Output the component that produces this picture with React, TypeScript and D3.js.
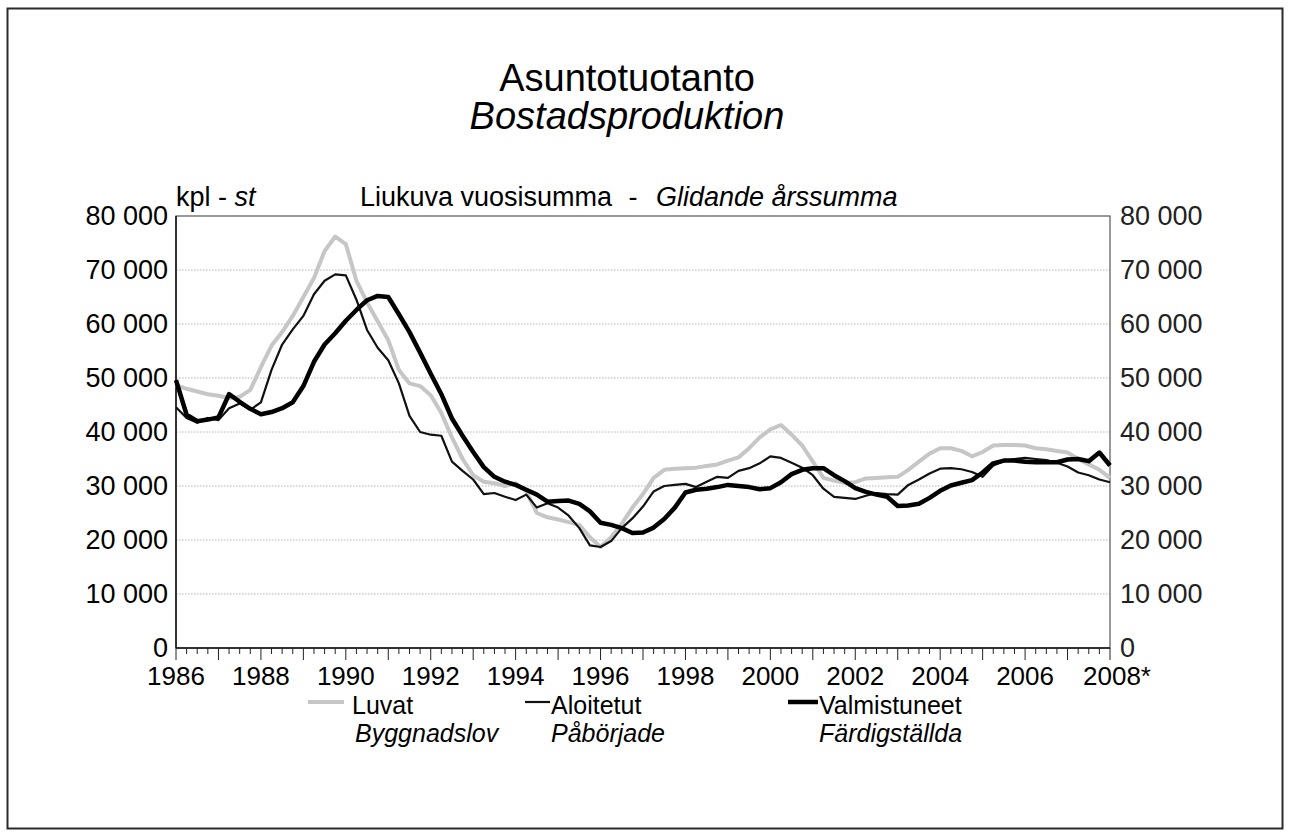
import React, { useRef, useEffect } from 'react'
import * as d3 from 'd3'

// x axis labels, one every two years (quarterly data 1986Q1 .. 2008Q1)
const yearLabels = ['1986', '1988', '1990', '1992', '1994', '1996', '1998', '2000', '2002', '2004', '2006', '2008*']
const yTicks = [0, 10000, 20000, 30000, 40000, 50000, 60000, 70000, 80000]

// Luvat - Byggnadslov
const luvat = [
  48700, 48000, 47500, 47000, 46700, 46300, 46500, 47800, 52000, 56000,
  58500, 61500, 65000, 68500, 73500, 76200, 74800, 68000, 64000, 60500,
  57000, 51500, 49000, 48500, 46800, 43500, 39000, 35000, 32000, 30800,
  30500, 30000, 30500, 29000, 25000, 24200, 23800, 23300, 22800, 20500,
  18700, 20500, 23000, 26000, 28500, 31500, 33000, 33200, 33300, 33400,
  33700, 34000, 34700, 35300, 37000, 39000, 40500, 41300, 39500, 37500,
  34500, 31500, 31000, 30600, 30700, 31400, 31500, 31600, 31700, 33000,
  34500, 36000, 37000, 37000, 36500, 35500, 36300, 37500, 37600, 37600,
  37500, 37000, 36800, 36500, 36200, 35000, 34000, 33000, 31500
]

// Aloitetut - Påbörjade
const aloitetut = [
  44600, 42600, 41700, 42600, 42200, 44400, 45300, 44100, 45500, 51500,
  56200, 59000, 61500, 65500, 68000, 69200, 69000, 64500, 58900, 55600,
  53300, 49000, 43000, 40000, 39500, 39300, 34500, 32800, 31200, 28500,
  28700, 28000, 27400, 28400, 26000, 26800, 26000, 24500, 22200, 19000,
  18700, 19800, 22200, 24000, 26200, 29000, 30000, 30200, 30400, 29800,
  30800, 31700, 31500, 32800, 33300, 34200, 35500, 35200, 34300, 33400,
  32000, 29500, 28000, 27800, 27600, 28200, 28700, 28500, 28400, 30200,
  31200, 32300, 33200, 33300, 33100, 32600, 31700, 33800, 34600, 35000,
  35200, 35000, 34800, 34300, 33600, 32500, 32000, 31200, 30700
]

// Valmistuneet - Färdigställda
const valmistuneet = [
  49600, 43200, 42000, 42300, 42700, 47000, 45600, 44300, 43300, 43700,
  44400, 45500, 48500, 53000, 56200, 58300, 60600, 62600, 64400, 65200,
  65000, 61800, 58500, 54700, 50800, 47000, 42500, 39300, 36300, 33500,
  31700, 30800, 30200, 29300, 28400, 27100, 27200, 27300, 26700, 25300,
  23200, 22800, 22200, 21300, 21400, 22300, 23900, 26000, 28800, 29300,
  29500, 29800, 30200, 30000, 29800, 29400, 29600, 30700, 32200, 33000,
  33300, 33300, 32000, 30900, 29600, 28900, 28400, 28000, 26300, 26400,
  26700, 27800, 29100, 30100, 30600, 31100, 32500, 34200, 34700, 34700,
  34500, 34400, 34400, 34400, 34900, 35000, 34600, 36200, 33800
]

const FONT = '"Liberation Sans", Arial, sans-serif'

const App = () => {
  const width = 1289
  const height = 836
  const margin = { top: 216, right: 179, bottom: 188, left: 176 }
  const svgRef = useRef<SVGSVGElement>(null)

  useEffect(() => {
    const svg = d3.select(svgRef.current)
    svg.selectAll('*').remove()

    const n = luvat.length
    const x = d3
      .scaleLinear()
      .domain([0, n - 1])
      .range([margin.left, width - margin.right])
    const y = d3
      .scaleLinear()
      .domain([0, 80000])
      .range([height - margin.bottom, margin.top])

    const fmt = (v: number) => d3.format(',')(v).replace(/,/g, ' ')

    // outer frame
    svg
      .append('rect')
      .attr('x', 7.5)
      .attr('y', 8.5)
      .attr('width', 1275)
      .attr('height', 820)
      .attr('fill', 'none')
      .attr('stroke', '#2b2b2b')
      .attr('stroke-width', 2)

    // titles
    svg
      .append('text')
      .attr('x', 627)
      .attr('y', 91)
      .attr('text-anchor', 'middle')
      .attr('font-size', 38)
      .text('Asuntotuotanto')
    svg
      .append('text')
      .attr('x', 627)
      .attr('y', 129)
      .attr('text-anchor', 'middle')
      .attr('font-size', 38)
      .attr('font-style', 'italic')
      .text('Bostadsproduktion')

    svg
      .append('text')
      .attr('x', 612)
      .attr('y', 206)
      .attr('font-size', 27)
      .attr('text-anchor', 'end')
      .text('Liukuva vuosisumma')
    svg.append('text').attr('x', 633).attr('y', 206).attr('font-size', 27).attr('text-anchor', 'middle').text('-')
    svg
      .append('text')
      .attr('x', 656)
      .attr('y', 206)
      .attr('font-size', 27)
      .attr('font-style', 'italic')
      .text('Glidande årssumma')

    const unit = svg.append('text').attr('x', 176).attr('y', 206).attr('font-size', 27)
    unit.append('tspan').text('kpl - ')
    unit.append('tspan').attr('font-style', 'italic').text('st')

    // gridlines
    svg
      .append('g')
      .selectAll('line')
      .data(yTicks.slice(1, -1))
      .join('line')
      .attr('x1', margin.left)
      .attr('x2', width - margin.right)
      .attr('y1', d => y(d))
      .attr('y2', d => y(d))
      .attr('stroke', '#b4b4b4')
      .attr('stroke-width', 1)
      .attr('stroke-dasharray', '1.5,1.5')

    // plot border
    svg
      .append('rect')
      .attr('x', margin.left)
      .attr('y', margin.top)
      .attr('width', width - margin.left - margin.right)
      .attr('height', height - margin.top - margin.bottom)
      .attr('fill', 'none')
      .attr('stroke', '#555')
      .attr('stroke-width', 1.2)

    // left / right value labels
    svg
      .append('g')
      .selectAll('text')
      .data(yTicks)
      .join('text')
      .attr('x', 168)
      .attr('y', d => y(d) + 9)
      .attr('text-anchor', 'end')
      .attr('font-size', 27)
      .text(d => fmt(d))
    svg
      .append('g')
      .selectAll('text')
      .data(yTicks)
      .join('text')
      .attr('x', 1120)
      .attr('y', d => y(d) + 9)
      .attr('font-size', 27)
      .attr('fill', '#222')
      .text(d => fmt(d))

    // x axis: quarterly minor ticks, yearly major ticks
    const xg = svg.append('g')
    xg.append('line')
      .attr('x1', margin.left)
      .attr('x2', width - margin.right)
      .attr('y1', y(0))
      .attr('y2', y(0))
      .attr('stroke', '#111')
      .attr('stroke-width', 1.5)
    xg.selectAll('line.tick')
      .data(d3.range(n))
      .join('line')
      .attr('class', 'tick')
      .attr('x1', d => x(d))
      .attr('x2', d => x(d))
      .attr('y1', y(0))
      .attr('y2', d => y(0) + (d % 4 === 0 ? 12 : 6))
      .attr('stroke', '#222')
      .attr('stroke-width', 1)
    xg.selectAll('text')
      .data(yearLabels)
      .join('text')
      .attr('x', (d, i) => x(i * 8) + (d.endsWith('*') ? 7 : 0))
      .attr('y', 685)
      .attr('text-anchor', 'middle')
      .attr('font-size', 26)
      .text(d => d)

    // left axis line
    svg
      .append('line')
      .attr('x1', margin.left)
      .attr('x2', margin.left)
      .attr('y1', margin.top)
      .attr('y2', y(0))
      .attr('stroke', '#111')
      .attr('stroke-width', 1.5)

    const line = d3
      .line<number>()
      .x((d, i) => x(i))
      .y(d => y(d))

    const series = [
      { data: luvat, color: '#c6c6c6', w: 4 },
      { data: aloitetut, color: '#111', w: 2.2 },
      { data: valmistuneet, color: '#000', w: 4.5 }
    ]
    svg
      .append('g')
      .selectAll('path')
      .data(series)
      .join('path')
      .attr('d', d => line(d.data))
      .attr('fill', 'none')
      .attr('stroke', d => d.color)
      .attr('stroke-width', d => d.w)
      .attr('stroke-linejoin', 'round')

    // legend
    const legend = [
      { fi: 'Luvat', sv: 'Byggnadslov', x0: 308, sw: 36, tx: 352, sx: 355, color: '#c6c6c6', w: 4 },
      { fi: 'Aloitetut', sv: 'Påbörjade', x0: 525, sw: 25, tx: 551, sx: 551, color: '#111', w: 2.2 },
      { fi: 'Valmistuneet', sv: 'Färdigställda', x0: 788, sw: 30, tx: 819, sx: 819, color: '#000', w: 4.5 }
    ]
    const lg = svg.append('g').selectAll('g').data(legend).join('g')
    lg.append('line')
      .attr('x1', d => d.x0)
      .attr('x2', d => d.x0 + d.sw)
      .attr('y1', 702)
      .attr('y2', 702)
      .attr('stroke', d => d.color)
      .attr('stroke-width', d => d.w)
    lg.append('text')
      .attr('x', d => d.tx)
      .attr('y', 714)
      .attr('font-size', 25)
      .text(d => d.fi)
    lg.append('text')
      .attr('x', d => d.sx)
      .attr('y', 742)
      .attr('font-size', 25)
      .attr('font-style', 'italic')
      .text(d => d.sv)
  }, [])

  return (
    <svg
      ref={svgRef}
      viewBox={`0,0,${width},${height}`}
      width={width}
      height={height}
      style={{ position: 'absolute', left: 0, top: 0, background: '#fff', fontFamily: FONT }}
    />
  )
}

export default App
